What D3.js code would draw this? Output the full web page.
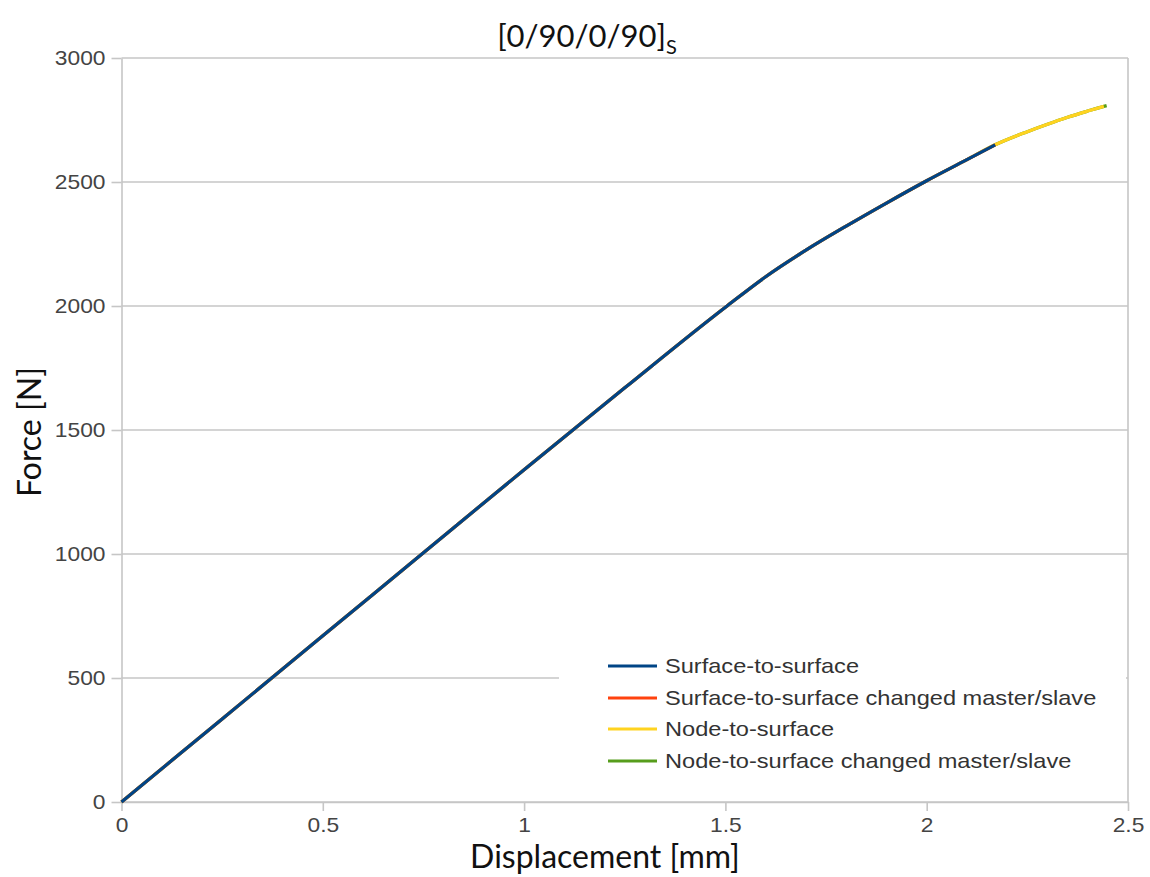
<!DOCTYPE html>
<html>
<head>
<meta charset="utf-8">
<script src="https://cdn.jsdelivr.net/npm/d3@7"></script>
<style>
  html, body { margin: 0; padding: 0; background: #fff; }
  svg { display: block; }
</style>
</head>
<body>
<svg id="chart" width="1150" height="877"></svg>
<script>
// Force–displacement response of a [0/90/0/90]s laminate for four contact formulations
const displacementMain = [0, 0.25, 0.5, 0.75, 1.0, 1.25, 1.5, 1.6, 1.7, 1.8, 1.9, 2.0, 2.1, 2.17];
const forceMain        = [0, 335, 670, 1005, 1340, 1670, 1995, 2118, 2225, 2322, 2415, 2505, 2590, 2650];

const displacementTail = [2.25, 2.3, 2.35, 2.4, 2.44];
const forceTail        = [2703, 2733, 2761, 2786, 2805];

const displacementEnd  = [2.447];
const forceEnd         = [2808];

const seriesNames  = [
  "Surface-to-surface",
  "Surface-to-surface changed master/slave",
  "Node-to-surface",
  "Node-to-surface changed master/slave"
];
const seriesColors = ["#004586", "#ff420e", "#ffd320", "#579d1c"];

const xTicks = [0, 0.5, 1, 1.5, 2, 2.5];
const xTickLabels = ["0", "0.5", "1", "1.5", "2", "2.5"];
const yTicks = [0, 500, 1000, 1500, 2000, 2500, 3000];
const yTickLabels = ["0", "500", "1000", "1500", "2000", "2500", "3000"];

// Build point lists for each series
const zip = (xs, ys) => xs.map((d, i) => ({ x: d, y: ys[i] }));
const mainPts = zip(displacementMain, forceMain);
const tailPts = zip(displacementTail, forceTail);
const endPts  = zip(displacementEnd, forceEnd);

const seriesData = [
  mainPts,                                 // surface-to-surface
  mainPts,                                 // surface-to-surface changed
  mainPts.concat(tailPts),                 // node-to-surface
  mainPts.concat(tailPts, endPts)          // node-to-surface changed
];

const svg = d3.select("#chart");
const plotLeft = 121.5, plotRight = 1128, plotTop = 58, plotBottom = 802;

const x = d3.scaleLinear().domain([0, 2.5]).range([plotLeft, plotRight]);
const y = d3.scaleLinear().domain([0, 3000]).range([plotBottom, plotTop]);

const gridColor = "#c6c6c6";
const tickFont = "'Liberation Sans', Arial, sans-serif";
const labelFont = "Lato, 'Open Sans', sans-serif";
const tickStretch = 1.14;    // the sans-serif labels are set slightly wide
const legendStretch = 1.18;

// Horizontal gridlines
svg.append("g")
  .selectAll("line")
  .data(yTicks)
  .join("line")
  .attr("x1", plotLeft).attr("x2", plotRight)
  .attr("y1", d => y(d)).attr("y2", d => y(d))
  .attr("stroke", gridColor)
  .attr("stroke-width", 1.6);

// Right border of the plot area
svg.append("line")
  .attr("x1", plotRight).attr("x2", plotRight)
  .attr("y1", plotTop).attr("y2", plotBottom)
  .attr("stroke", gridColor).attr("stroke-width", 1.6);

// Legend background (hides gridline beneath it)
const legend = svg.append("g");
legend.append("rect")
  .attr("x", 559).attr("y", 630)
  .attr("width", 567).attr("height", 165)
  .attr("fill", "#fff");

// Y axis
const yAxis = d3.axisLeft(y)
  .tickValues(yTicks)
  .tickFormat((d, i) => yTickLabels[i])
  .tickSizeInner(10).tickSizeOuter(0).tickPadding(6);
const gy = svg.append("g").attr("transform", `translate(${plotLeft},0)`).call(yAxis);

// X axis
const xAxis = d3.axisBottom(x)
  .tickValues(xTicks)
  .tickFormat((d, i) => xTickLabels[i])
  .tickSizeInner(9).tickSizeOuter(0).tickPadding(7);
const gx = svg.append("g").attr("transform", `translate(0,${plotBottom})`).call(xAxis);

[gx, gy].forEach(g => {
  g.select(".domain").attr("stroke", gridColor).attr("stroke-width", 1.6);
  g.selectAll(".tick line").attr("stroke", gridColor).attr("stroke-width", 1.6);
  g.selectAll(".tick text")
    .attr("fill", "#444")
    .style("font-family", tickFont)
    .style("font-size", "20px")
    .each(function () {
      const t = d3.select(this);
      const tx = +t.attr("x") || 0;
      t.attr("x", tx / tickStretch).attr("transform", `scale(${tickStretch},1)`);
    });
});

// Series lines: drawn last-to-first so the first series sits on top
const line = d3.line().x(d => x(d.x)).y(d => y(d.y)).curve(d3.curveMonotoneX);
const order = [3, 2, 1, 0];
svg.append("g")
  .selectAll("path")
  .data(order)
  .join("path")
  .attr("d", i => line(seriesData[i]))
  .attr("fill", "none")
  .attr("stroke", i => seriesColors[i])
  .attr("stroke-width", 3.2)
  .attr("stroke-linejoin", "round");

// Legend entries
const legendRows = [666, 698, 729, 761];
const items = legend.selectAll("g.item")
  .data(seriesNames)
  .join("g")
  .attr("class", "item")
  .attr("transform", (d, i) => `translate(608,${legendRows[i]})`);
items.append("line")
  .attr("x1", 0).attr("x2", 49)
  .attr("y1", 0).attr("y2", 0)
  .attr("stroke", (d, i) => seriesColors[i])
  .attr("stroke-width", 3.2);
items.append("text")
  .attr("transform", `translate(57,7) scale(${legendStretch},1)`)
  .attr("fill", "#333")
  .style("font-family", tickFont)
  .style("font-size", "20px")
  .text(d => d);

// Title with subscript
const title = svg.append("text")
  .attr("x", 587).attr("y", 47)
  .attr("text-anchor", "middle")
  .attr("fill", "#111")
  .style("font-family", labelFont)
  .style("font-size", "31px");
title.append("tspan").text("[0/90/0/90]");
title.append("tspan").attr("dy", 7).style("font-size", "20px").text("S");

// Axis titles
svg.append("text")
  .attr("x", 605).attr("y", 868)
  .attr("text-anchor", "middle")
  .attr("fill", "#111")
  .style("font-family", labelFont)
  .style("font-size", "32px")
  .text("Displacement [mm]");

svg.append("text")
  .attr("transform", "translate(41,432) rotate(-90)")
  .attr("text-anchor", "middle")
  .attr("fill", "#111")
  .style("font-family", labelFont)
  .style("font-size", "32px")
  .text("Force [N]");
</script>
</body>
</html>
